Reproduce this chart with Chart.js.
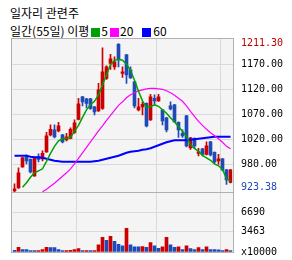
<!DOCTYPE html>
<html>
<head>
<meta charset="utf-8">
<title>일자리 관련주</title>
<script src="https://cdn.jsdelivr.net/npm/chart.js"></script>
<style>
    body { margin: 0; width: 292px; height: 260px; background: #fff; position: relative; overflow: hidden; font-family: 'Noto Sans CJK KR', sans-serif; }
    #title { position: absolute; left: 10px; top: 6px; font-size: 12px; line-height: 14px; color: #000; }
    #legend { position: absolute; left: 10px; top: 24px; font-size: 12px; line-height: 14px; color: #000; white-space: nowrap; }
    #legend i { display: inline-block; width: 9px; height: 9px; vertical-align: -1px; }
    canvas { position: absolute; left: 0; }
    #price { top: 30px; }
    #volume { top: 184px; }
</style>
</head>
<body>
<div id="title"></div>
<div id="legend"></div>
<canvas id="price" width="292" height="170"></canvas>
<canvas id="volume" width="292" height="76"></canvas>
<script>
    const title = '일자리 관련주';
    const periodText = '일간(55일) 이평';
    const maPeriods = [5, 20, 60];

    // daily candles, 55 days
    const opens  = [917, 923, 965, 985, 980, 947, 985, 981, 995, 1029, 1039, 1037, 1029, 1019, 1022, 1034, 1060, 1105, 1101, 1101,
                    1085, 1077, 1082, 1142, 1172, 1165, 1210, 1152, 1189, 1159, 1135, 1079, 1085, 1092, 1059, 1102, 1097, 1079, 1063, 1087,
                    1089, 1054, 1032, 1067, 1003, 1022, 992, 1001, 990, 1015, 994, 977, 981, 959, 934];
    const highs  = [931, 963, 984, 989, 981, 985, 991, 997, 1034, 1049, 1049, 1054, 1030, 1032, 1043, 1059, 1102, 1106, 1102, 1102,
                    1086, 1132, 1203, 1167, 1190, 1185, 1211.3, 1165, 1190, 1165, 1136, 1102, 1095, 1093, 1110, 1109, 1110, 1080, 1064, 1095,
                    1090, 1055, 1039, 1068, 1024, 1023, 1002, 1002, 1015, 1016, 995, 990, 982, 960, 960];
    const lows   = [915, 922, 964, 971, 953, 946, 975, 977, 994, 1027, 1023, 1035, 1013, 1017, 1021, 1032, 1059, 1087, 1083, 1080,
                    1069, 1076, 1080, 1140, 1160, 1160, 1165, 1144, 1132, 1142, 1083, 1077, 1069, 1045, 1058, 1089, 1096, 1049, 1035, 1079,
                    1054, 1024, 1024, 1005, 1000, 1002, 987, 987, 989, 987, 972, 970, 957, 930, 933];
    const closes = [921, 953, 983, 977, 955, 983, 980, 992, 1027, 1040, 1025, 1047, 1015, 1025, 1040, 1053, 1091, 1095, 1092, 1082,
                    1075, 1119, 1155, 1165, 1181, 1175, 1179, 1155, 1149, 1143, 1087, 1085, 1090, 1047, 1105, 1097, 1105, 1057, 1039, 1081,
                    1055, 1039, 1027, 1007, 1023, 1007, 995, 990, 1007, 989, 975, 981, 959, 939, 959];
    // volume, x10000
    const volumes = [300, 780, 420, 400, 250, 240, 260, 420, 780, 760, 740, 420, 240, 260, 280, 420, 560, 250, 260, 240,
                     260, 1200, 2500, 2000, 2650, 1800, 1300, 1050, 4000, 1200, 890, 880, 900, 780, 1580, 1050, 620, 890, 2500, 1200,
                     780, 890, 400, 1050, 560, 400, 730, 400, 890, 400, 390, 380, 240, 400, 240];

    // moving averages as drawn
    const ma5  = [null, null, 924, 933, 944, 953, 957, 961, 976, 992, 1006, 1017, 1021, 1022, 1024, 1036, 1048, 1064, 1079, 1089,
                  1096, 1109, 1129, 1149, 1169, 1178, 1180, 1178, 1170, 1158, 1138, 1116, 1097, 1084, 1085, 1089, 1086, 1079, 1072, 1063,
                  1055, 1045, 1036, 1026, 1009, 1002, 996, 988, 983, 978, 971, 967, 960, 941, 937];
    const ma20 = [null, null, null, null, null, null, null, 915, 920, 926, 932, 939, 946, 953, 961, 971, 982, 993, 1004, 1015,
                  1026, 1037, 1047, 1058, 1068, 1078, 1088, 1095, 1103, 1109, 1113, 1117, 1119, 1121, 1122, 1122, 1121, 1120, 1117, 1113,
                  1108, 1102, 1096, 1087, 1076, 1066, 1056, 1048, 1040, 1033, 1027, 1021, 1014, 1006, 1001];
    const ma60 = [987, 987, 987, 987, 985, 984, 984, 983, 981, 979, 977, 976, 975, 975, 975, 975, 975, 975, 975, 975,
                  976, 977, 979, 981, 983, 985, 987, 990, 993, 995, 996, 997, 999, 1000, 1002, 1005, 1008, 1011, 1014, 1016,
                  1018, 1018, 1018, 1018, 1019, 1020, 1021, 1022, 1023, 1024, 1025, 1025, 1025, 1025, 1025];

    const priceTicks = [923.38, 970, 1020, 1070, 1120, 1170, 1211.3];
    const priceTickLabels = ['923.38', '980.00', '1020.00', '1070.00', '1120.00', '1170.00', '1211.30'];
    const priceGrid = [970, 1020, 1070, 1120, 1170];
    const volumeTicks = [0, 3463, 6690];
    const volumeTickLabels = ['x10000', '3463', '6690'];
    const volumeGrid = [3463, 6690];
    const monthStarts = [16, 36, 52];

    const RED = '#cc0000', BLUE = '#1f4ab8', GRID = '#d9d9d9', NONE = 'rgba(0,0,0,0)';
    const maColors = ['#00a000', '#ff00ff', '#0000ff'];
    const tickFont = { family: 'DejaVu Sans Mono', size: 10 };

    document.getElementById('title').textContent = title;
    const legend = document.getElementById('legend');
    legend.append(periodText);
    maPeriods.forEach((p, k) => {
        const sw = document.createElement('i');
        sw.style.background = maColors[k];
        sw.style.margin = k === 2 ? '0 2px 0 9px' : '0 1px 0 2px';
        legend.append(sw, String(p));
    });

    const labels = opens.map((_, i) => i + 1);
    const candleColor = c => closes[c.dataIndex] >= opens[c.dataIndex] ? RED : BLUE;

    // panel background and frame
    const frame = {
        id: 'frame',
        beforeDraw(chart) {
            const a = chart.chartArea, ctx = chart.ctx;
            ctx.save();
            ctx.fillStyle = '#f4f4f4';
            ctx.fillRect(Math.floor(a.left), a.top, Math.ceil(a.right) - Math.floor(a.left), a.bottom - a.top);
            ctx.restore();
        },
        afterDraw(chart) {
            const a = chart.chartArea, ctx = chart.ctx;
            ctx.save();
            ctx.strokeStyle = '#b0b0b0';
            ctx.lineWidth = 1;
            ctx.strokeRect(Math.floor(a.left) - 0.5, a.top - 0.5, Math.ceil(a.right) - Math.floor(a.left) + 1, a.bottom - a.top + 1);
            ctx.restore();
        }
    };

    const xScale = {
        offset: true,
        border: { display: false },
        grid: { offset: true, drawTicks: false, color: c => monthStarts.includes(c.index) ? GRID : NONE },
        ticks: { display: false, autoSkip: false },
        afterFit: s => { s.paddingLeft = 0; s.paddingRight = 0; }
    };

    function rightAxis(min, max, values, texts, gridValues, colorFn) {
        return {
            position: 'right', min: min, max: max,
            border: { display: false },
            grid: { drawTicks: false, color: c => c.tick && gridValues.includes(c.tick.value) ? GRID : NONE },
            ticks: { padding: 8.5, autoSkip: false, font: tickFont, color: colorFn, callback: (v, i) => texts[i] },
            afterBuildTicks: s => { s.ticks = values.map(v => ({ value: v })); },
            afterFit: s => { s.width = 59.5; s.paddingTop = 0; s.paddingBottom = 0; }
        };
    }

    new Chart(document.getElementById('price'), {
        type: 'bar',
        data: {
            labels: labels,
            datasets: [
                { type: 'line', data: ma5, borderColor: maColors[0], borderWidth: 1.5, pointRadius: 0, order: 1 },
                { type: 'line', data: ma20, borderColor: maColors[1], borderWidth: 1.2, pointRadius: 0, order: 1 },
                { type: 'line', data: ma60, borderColor: maColors[2], borderWidth: 2, pointRadius: 0, order: 1 },
                { data: opens.map((o, i) => [o, closes[i]]), backgroundColor: candleColor, barThickness: 3, minBarLength: 1, grouped: false, order: 2 },
                { data: lows.map((l, i) => [l, highs[i]]), backgroundColor: candleColor, barThickness: 1, grouped: false, order: 3 }
            ]
        },
        options: {
            responsive: false,
            animation: false,
            layout: { padding: { left: 12.5, right: 0, top: 9, bottom: 8 } },
            plugins: { legend: { display: false }, tooltip: { enabled: false } },
            scales: {
                x: xScale,
                y: rightAxis(914.6, 1220.6, priceTicks, priceTickLabels, priceGrid,
                    c => c.index === 0 ? BLUE : (c.index === priceTicks.length - 1 ? '#c00000' : '#000'))
            }
        },
        plugins: [frame]
    });

    new Chart(document.getElementById('volume'), {
        type: 'bar',
        data: {
            labels: labels,
            datasets: [{
                data: volumes,
                backgroundColor: c => c.dataIndex > 0 && volumes[c.dataIndex] > volumes[c.dataIndex - 1] ? RED : BLUE,
                barThickness: 3
            }]
        },
        options: {
            responsive: false,
            animation: false,
            layout: { padding: { left: 12.5, right: 0, top: 9, bottom: 8 } },
            plugins: { legend: { display: false }, tooltip: { enabled: false } },
            scales: {
                x: xScale,
                y: rightAxis(0, 10018, volumeTicks, volumeTickLabels, volumeGrid, '#000')
            }
        },
        plugins: [frame]
    });
</script>
</body>
</html>
